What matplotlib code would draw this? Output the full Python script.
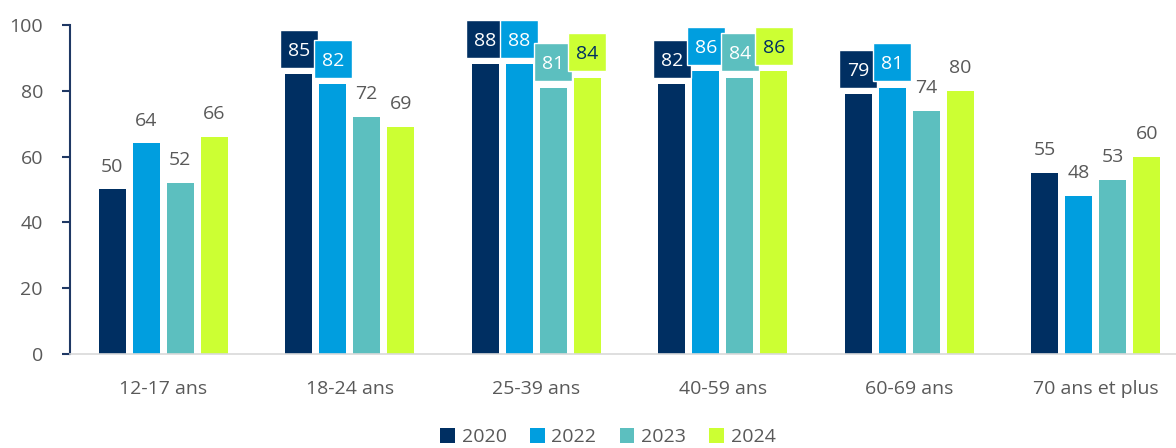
import matplotlib
matplotlib.use("Agg")
import matplotlib.pyplot as plt
from matplotlib.patches import Patch, Rectangle
import numpy as np

plt.rcParams['font.family'] = ['Open Sans', 'DejaVu Sans']

categories = ["12-17 ans", "18-24 ans", "25-39 ans", "40-59 ans", "60-69 ans", "70 ans et plus"]
years = ["2020", "2022", "2023", "2024"]
v2020 = [50, 85, 88, 82, 79, 55]
v2022 = [64, 82, 88, 86, 81, 48]
v2023 = [52, 72, 81, 84, 74, 53]
v2024 = [66, 69, 84, 86, 80, 60]
series = [v2020, v2022, v2023, v2024]
colors = ["#002F62", "#009EDF", "#5CBFBF", "#CCFF33"]
label_colors = ["white", "white", "white", "#002F62"]
# labels shown in a filled box (index of category, index of series)
boxed = {(1, 0), (1, 1),
         (2, 0), (2, 1), (2, 2), (2, 3),
         (3, 0), (3, 1), (3, 2), (3, 3),
         (4, 0), (4, 1)}

text_grey = "#595959"
navy = "#1F3864"
fs = 14

W, H = 1176, 448
fig = plt.figure(figsize=(W / 100, H / 100), dpi=100)
ax_left, ax_bottom, ax_top = 70, 94, 25
ax = fig.add_axes([ax_left / W, ax_bottom / H, 1 - ax_left / W, (H - ax_bottom - ax_top) / H])

xmin, xmax, ymax = -0.5, 5.43, 100
ax.set_xlim(xmin, xmax)
ax.set_ylim(0, ymax)

# pixel -> data conversion factors for the fixed-size label boxes
px_x = (xmax - xmin) / (W - ax_left)
px_y = ymax / (H - ax_bottom - ax_top)
box_w, box_h, box_gap = 38 * px_x, 38 * px_y, 6.5 * px_y

x = np.arange(len(categories))
width = 0.145
step = 0.182
offsets = (np.arange(len(years)) - 1.5) * step

for j, (vals, col) in enumerate(zip(series, colors)):
    ax.bar(x + offsets[j], vals, width=width, color=col, zorder=2)
    for i, v in enumerate(vals):
        xi = x[i] + offsets[j]
        if (i, j) in boxed:
            y0 = v + box_gap
            ax.add_patch(Rectangle((xi - box_w / 2, y0), box_w, box_h, facecolor=col,
                                   edgecolor="white", linewidth=1.0, zorder=4 + j,
                                   clip_on=False))
            ax.text(xi, y0 + box_h / 2, str(v), ha="center", va="center_baseline",
                    fontsize=fs, color=label_colors[j], zorder=4 + j, clip_on=False)
        else:
            ax.annotate(str(v), (xi, v), xytext=(0, 10), textcoords="offset points",
                        ha="center", va="bottom", fontsize=fs, color=text_grey, zorder=3)

ax.set_yticks(range(0, 101, 20))
ax.set_xticks(x)
ax.set_xticklabels(categories)

for s in ["top", "right"]:
    ax.spines[s].set_visible(False)
ax.spines["left"].set_color(navy)
ax.spines["left"].set_linewidth(1.5)
ax.spines["bottom"].set_color("#D9D9D9")
ax.spines["bottom"].set_linewidth(1.2)

ax.tick_params(axis="y", direction="out", length=6, width=1.5, color=navy,
               labelsize=fs, labelcolor=text_grey, pad=13.5)
ax.tick_params(axis="x", length=0, labelsize=fs, labelcolor=text_grey, pad=19)

handles = [Patch(facecolor=c, edgecolor="none") for c in colors]
fig.legend(handles, years, loc="lower center", bbox_to_anchor=(0.517, -0.035), ncol=4,
           frameon=False, fontsize=fs, labelcolor=text_grey,
           handlelength=0.75, handleheight=0.75, handletextpad=0.35, columnspacing=1.2)

fig.savefig("out.png", dpi=100)
